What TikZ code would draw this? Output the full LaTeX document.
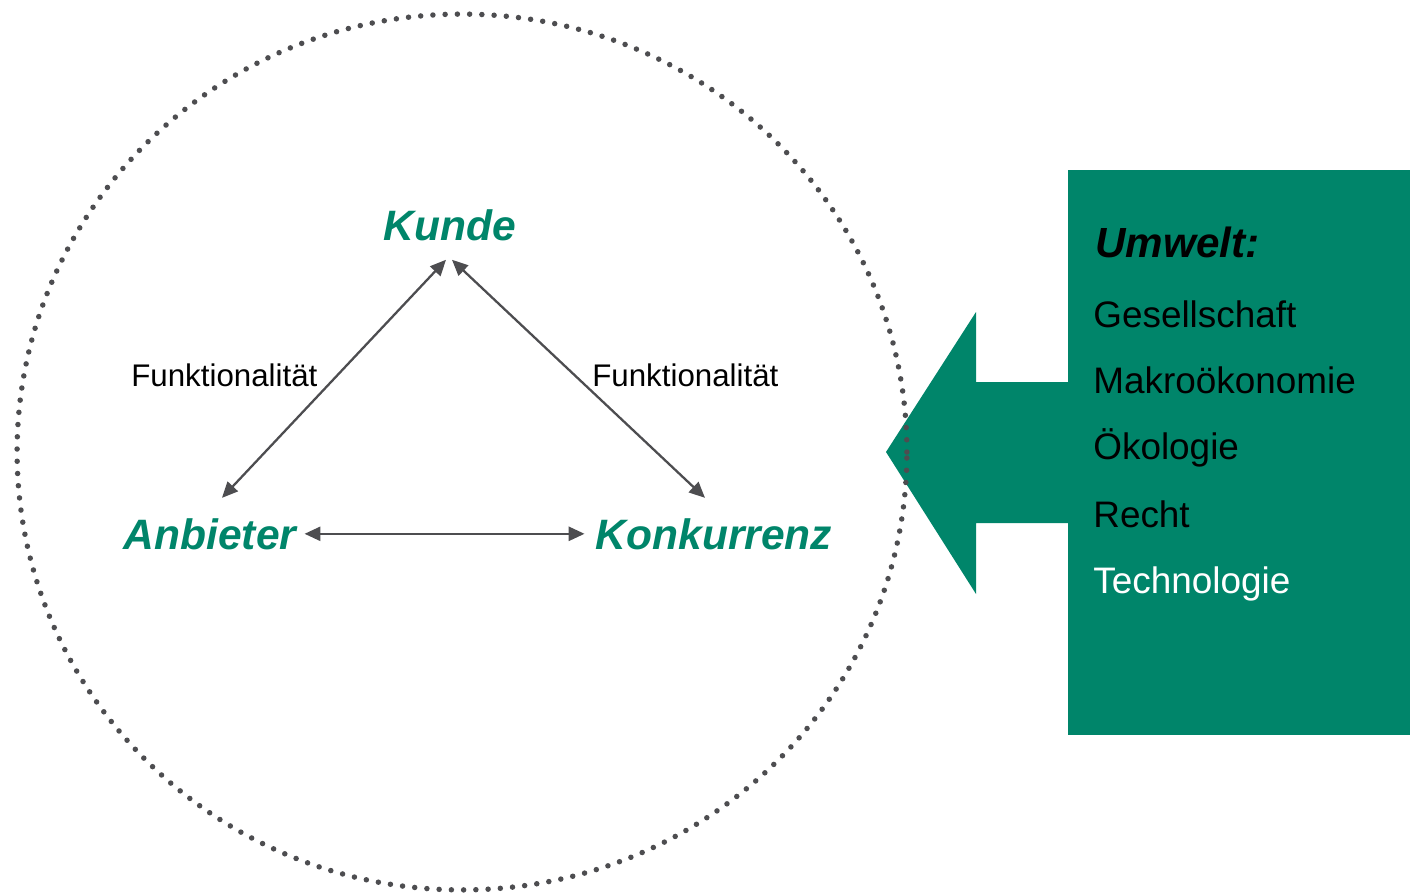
\documentclass[tikz,border=0pt]{standalone}
\usepackage{fontspec}
\setmainfont{Liberation Sans}
\usetikzlibrary{arrows.meta}
\definecolor{umgreen}{RGB}{0,133,106}
\definecolor{lngray}{RGB}{77,77,80}
\begin{document}
\begin{tikzpicture}[x=0.02cm, y=-0.02cm,
    akteur/.style={inner sep=0pt, anchor=base, text=umgreen,
        font=\fontsize{24.2}{29}\selectfont\bfseries\itshape},
    funkt/.style={inner sep=0pt, anchor=base west, font=\fontsize{17.8}{21}\selectfont},
    faktor/.style={inner sep=0pt, anchor=base west, font=\fontsize{21}{25}\selectfont},
    bezug/.style={{Triangle[length=9pt,width=8pt]}-{Triangle[length=9pt,width=8pt]},
        draw=lngray, line width=1.3pt},
    rand/.style={draw=lngray, line width=0.11cm, line cap=round, dash pattern=on 0pt off 0.245cm}]
            \useasboundingbox (0, 0) rectangle (1410, 893);

            % Umwelt
            \fill[umgreen] (1068, 170) rectangle (1410, 735);
            \fill[umgreen] (886, 452) -- (976, 312) -- (976, 382) -- (1068, 382)
                -- (1068, 523) -- (976, 523) -- (976, 594) -- cycle;
            \node[faktor, font=\fontsize{24}{29}\selectfont\bfseries\itshape] (umwelt) at (1095, 257) {Umwelt:};
            \node[faktor] (ges) at (1093, 327) {Gesellschaft};
            \node[faktor] (makro) at (1093, 393) {Makroökonomie};
            \node[faktor] (oeko) at (1093, 459) {Ökologie};
            \node[faktor] (recht) at (1093, 527) {Recht};
            \node[faktor, text=white] (tech) at (1093, 593) {Technologie};

            % Markt
            \draw[rand] (462, 452) ellipse [x radius=8.9cm, y radius=8.76cm];

            \node[akteur] (kunde) at (450, 240) { Kunde };
            \node[akteur] (anbieter) at (210, 549) { Anbieter };
            \node[akteur] (konkurrenz) at (714, 549) { Konkurrenz };

            \node[funkt] (fl) at (131, 386) { Funktionalität };
            \node[funkt] (fr) at (592, 386) { Funktionalität };

            \draw[bezug] ([shift={(12,-20)}]anbieter.north) -- ([shift={(-4,19)}]kunde.south);
            \draw[bezug] ([shift={(-9,-20)}]konkurrenz.north) -- ([shift={(2,19)}]kunde.south);
            \draw[bezug] ([shift={(8,0)}]anbieter.east) -- ([shift={(-11,0)}]konkurrenz.west);
        \end{tikzpicture}
\end{document}
